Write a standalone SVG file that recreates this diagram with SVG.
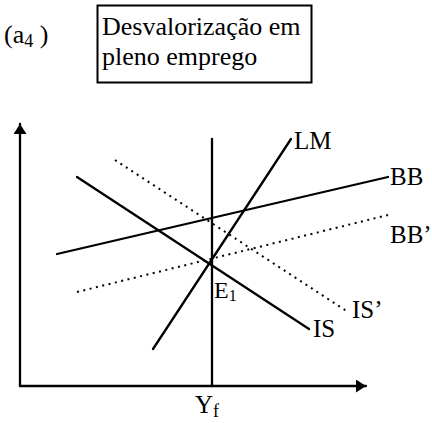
<svg xmlns="http://www.w3.org/2000/svg" width="432" height="423" viewBox="0 0 432 423">
<defs>
<style>
.t{font-family:"Liberation Serif","Times New Roman",serif;fill:#000}
.lbl{font-size:25px}
.big{font-size:26px}
.pl{font-size:26px}
.ln{stroke:#000;stroke-width:2.3;fill:none;stroke-linecap:round}
.dot{stroke:#000;stroke-width:2;fill:none;stroke-dasharray:2 4.5}
</style>
<marker id="ah" viewBox="0 0 10 13" refX="10" refY="6.5" markerWidth="10" markerHeight="13" markerUnits="userSpaceOnUse" orient="auto">
<path d="M0,0 L10,6.5 L0,13 Z" fill="#000"/>
</marker>
</defs>
<rect width="432" height="423" fill="#fff"/>
<g id="panel-label">
<text class="t pl" x="4" y="43">(a<tspan style="font-size:18px" dy="4">4</tspan><tspan dy="-4"> )</tspan></text>
</g>
<g id="title-box">
<rect x="97.5" y="5.5" width="214" height="77" fill="none" stroke="#000" stroke-width="2"/>
<text class="t big" x="102" y="35">Desvalorização em</text>
<text class="t big" x="102" y="65">pleno emprego</text>
</g>
<g id="axes">
<line class="ln" x1="20" y1="386" x2="20" y2="124" marker-end="url(#ah)" stroke-linecap="butt"/>
<line class="ln" x1="20" y1="386" x2="366" y2="386" marker-end="url(#ah)" stroke-linecap="butt"/>
</g>
<g id="connectors">
<line id="yf-line" class="ln" x1="212" y1="139" x2="212" y2="386"/>
<line id="lm-line" class="ln" x1="153" y1="349" x2="291" y2="139"/>
<line id="bb-line" class="ln" x1="57" y1="254" x2="388" y2="177" stroke-width="3.2"/>
<line id="is-line" class="ln" x1="77" y1="177" x2="309" y2="329"/>
<line id="isp-line" class="dot" x1="115" y1="160" x2="348" y2="312"/>
<line id="bbp-line" class="dot" x1="77" y1="292" x2="388" y2="215"/>
</g>
<g id="LM"><text class="t lbl" x="294" y="149">LM</text></g>
<g id="BB"><text class="t lbl" x="390" y="185">BB</text></g>
<g id="BBp"><text class="t lbl" x="390" y="243">BB’</text></g>
<g id="IS"><text class="t lbl" x="313" y="337">IS</text></g>
<g id="ISp"><text class="t lbl" x="352" y="318">IS’</text></g>
<g id="E1"><text class="t" style="font-size:24px" x="214" y="298">E<tspan style="font-size:16px" dy="3">1</tspan></text></g>
<g id="Yf"><text class="t lbl" x="195" y="413">Y<tspan style="font-size:18px" dy="4">f</tspan></text></g>
</svg>
